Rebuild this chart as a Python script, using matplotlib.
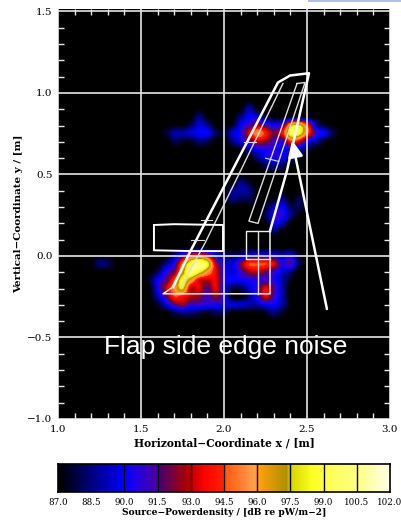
import numpy as np
import matplotlib
matplotlib.use('Agg')
import matplotlib.pyplot as plt
from matplotlib.colors import LinearSegmentedColormap
from matplotlib.patches import Rectangle

levels = [87.0, 88.5, 90.0, 91.5, 93.0, 94.5, 96.0, 97.5, 99.0, 100.5, 102.0]
x_ticks = [1.0, 1.5, 2.0, 2.5, 3.0]
y_ticks = [-1.0, -0.5, 0.0, 0.5, 1.0, 1.5]

# source map, dB on a 0.05 m grid
upper_x = np.arange(1.65, 2.701, 0.05)
upper_y = np.array([0.95, 0.90, 0.85, 0.80, 0.75, 0.70, 0.65, 0.60, 0.55])
upper_db = np.array([
    [87, 87, 87, 87, 87, 87, 87, 87, 87, 87, 87, 87, 87, 87, 87, 87, 87, 87, 87, 87, 87, 87],
    [87, 87, 87, 87, 87, 87, 87, 87, 87, 87, 89, 87, 87, 87, 87, 87, 87, 87, 87, 87, 87, 87],
    [87, 87, 87, 87, 88.5, 87, 87, 87, 87, 88.5, 90, 89.5, 87.5, 87, 87, 87, 87, 87, 87, 87, 87, 87],
    [87, 87, 87, 88, 89.5, 88.5, 87, 87, 87.5, 90, 91, 92.5, 91, 90, 91, 96.5, 97.5, 94, 89, 87.5, 87, 87],
    [87.5, 89, 89, 89.5, 90, 90, 88, 87.5, 89.5, 90.5, 93.5, 95.5, 94, 92, 94, 99, 98.5, 95, 91, 90, 88, 87],
    [87, 88, 87.5, 87.5, 88.5, 88, 87, 87, 88.5, 90, 91.5, 93, 92.5, 91, 91, 94.5, 93.5, 90.5, 89, 87.5, 87, 87],
    [87, 87, 87, 87, 87, 87, 87, 87, 87, 87.5, 89, 90, 90.5, 90.5, 90, 90, 89, 88, 87, 87, 87, 87],
    [87, 87, 87, 87, 87, 87, 87, 87, 87, 87, 87, 88.5, 90, 90.5, 90, 88.5, 87.5, 87, 87, 87, 87, 87],
    [87, 87, 87, 87, 87, 87, 87, 87, 87, 87, 87, 87, 88, 88.5, 88, 87, 87, 87, 87, 87, 87, 87],
])

middle_x = np.arange(2.00, 2.501, 0.05)
middle_y = np.array([0.50, 0.45, 0.40, 0.35, 0.30, 0.25, 0.20, 0.15, 0.10])
middle_db = np.array([
    [87, 87, 87, 87, 87, 87, 87, 87, 87, 87, 87],
    [87, 87, 88.5, 87.5, 87, 87, 87, 87, 87, 87, 87],
    [87, 88.5, 89, 88.5, 87, 87, 87, 87, 87, 87, 87],
    [87, 88.5, 88, 88, 87, 87, 87, 88.5, 87, 88, 87],
    [87, 87, 87, 87, 87, 87.5, 89.5, 90, 88, 88, 87],
    [87, 87, 87, 87, 87, 88, 90.5, 90.5, 88.5, 87, 87],
    [87, 87, 87, 87, 87, 87, 90, 89, 87, 87, 87],
    [87, 87, 87, 87, 87, 87, 88, 87, 87, 87, 87],
    [87, 87, 87, 87, 87, 87, 87, 87, 87, 87, 87],
])

lower_x = np.arange(1.55, 2.451, 0.05)
lower_y = np.array([0.05, 0.00, -0.05, -0.10, -0.15, -0.20, -0.25, -0.30, -0.35, -0.40])
lower_db = np.array([
    [87, 87, 87, 87, 87, 87, 87, 87, 87, 87, 87, 87, 87, 87, 87, 87, 87, 87, 87],
    [87, 87, 87, 88.5, 91, 93.5, 94.5, 93, 90, 88.5, 88, 88.5, 90, 90.5, 90, 90, 89, 90, 87.5],
    [87, 87, 88.5, 90.5, 95, 99, 100.5, 98.5, 93, 90, 89.5, 92, 94.5, 94.5, 94.5, 93.5, 90.5, 91.5, 88],
    [87, 88, 90.5, 92, 96.5, 100, 98.5, 96, 93.5, 90.5, 89.5, 91, 92.5, 93, 92, 91, 89.5, 88.5, 87],
    [87.5, 90, 91.5, 94.5, 98.5, 96.5, 93.5, 93, 93.5, 90.5, 90, 90, 90.5, 90.5, 91, 90.5, 89, 87.5, 87],
    [87, 90, 93, 95.5, 98, 93, 93.5, 91.5, 93.5, 90, 88, 88, 89.5, 91, 93.5, 91.5, 89, 87, 87],
    [87, 89, 91.5, 94.5, 94, 93, 92.5, 91, 92.5, 90.5, 87, 87, 88.5, 90.5, 93.5, 91, 89, 87, 87],
    [87, 87.5, 89.5, 91.5, 92.5, 91, 91, 90.5, 90.5, 90, 89.5, 89.5, 89, 89, 90, 90, 89, 87, 87],
    [87, 87, 87, 88, 88.5, 88.5, 88, 87.5, 88, 88, 87, 87, 87, 87, 87.5, 88.5, 87.5, 87, 87],
    [87, 87, 87, 87, 87, 87, 87, 87, 87, 87, 87, 87, 87, 87, 87, 87, 87, 87, 87],
])

spot_x = np.array([1.20, 1.25, 1.30, 1.35])
spot_y = np.array([0.00, -0.05, -0.10])
spot_db = np.array([
    [87, 87, 87, 87],
    [87, 88.5, 88, 87],
    [87, 87, 87, 87],
])

# model outline, metres
wing_x = [1.693, 1.795, 2.325, 2.398, 2.512, 2.38, 2.277]
wing_y = [-0.19, 0.024, 1.064, 1.107, 1.121, 0.526, 0.153]
base_x = [2.277, 2.277, 1.633, 1.693]
base_y = [0.153, -0.232, -0.232, -0.19]
inner_x = [1.74, 1.886, 2.078, 2.355]
inner_y = [-0.19, 0.08, 0.477, 1.058]
flap_x = [2.44, 2.488, 2.205, 2.15, 2.44]
flap_y = [1.058, 1.064, 0.2, 0.214, 1.058]
box_x = [1.578, 1.70, 1.994, 1.994, 1.80, 1.578, 1.578]
box_y = [0.19, 0.195, 0.19, 0.03, 0.03, 0.035, 0.19]
root_x = [2.277, 2.133, 2.133, 2.277]
root_y = [0.153, 0.153, -0.02, -0.02]
column_x = [2.205, 2.205]
column_y = [0.153, -0.232]
rung_x = [[2.12, 2.19], [1.86, 1.93], [1.80, 1.88], [2.25, 2.33]]
rung_y = [[0.70, 0.70], [0.22, 0.22], [0.10, 0.10], [0.60, 0.58]]

arrow_tail = (2.62, -0.325)
arrow_tip = (2.41, 0.71)

cmap = LinearSegmentedColormap.from_list('power', [
    (0.0, '#000000'), (0.1, '#000080'), (0.2, '#0000ff'), (0.23, '#2000e8'),
    (0.295, '#4a00a0'), (0.305, '#480070'), (0.39, '#b00000'), (0.44, '#ff0000'),
    (0.495, '#ff2000'), (0.505, '#ff5a10'), (0.59, '#ffa050'), (0.605, '#ffa010'),
    (0.69, '#b09000'), (0.705, '#d8d800'), (0.77, '#ffff20'), (0.83, '#ffff60'),
    (0.9, '#ffff80'), (1.0, '#ffffe8')])

plt.rcParams['font.family'] = 'DejaVu Serif'

fig = plt.figure(figsize=(4.02, 5.22), dpi=100)
fig.add_artist(Rectangle((308 / 402, 1 - 2 / 522), 94 / 402, 2 / 522, transform=fig.transFigure,
                         facecolor='#b4bfe4', edgecolor='none'))
ax = fig.add_axes([58 / 402, 1 - 419 / 522, 332 / 402, 410 / 522], facecolor='black')

for px, py, db in [(upper_x, upper_y, upper_db), (middle_x, middle_y, middle_db),
                   (lower_x, lower_y, lower_db), (spot_x, spot_y, spot_db)]:
    ax.imshow(db, cmap=cmap, vmin=87, vmax=102, interpolation='catrom', aspect='auto',
              extent=[px[0] - 0.025, px[-1] + 0.025, py[-1] - 0.025, py[0] + 0.025], zorder=1)

ax.set_xlim(1.0, 3.0)
ax.set_ylim(-1.0, 1.515)
ax.set_xticks(x_ticks)
ax.set_yticks(y_ticks)
ax.set_xticklabels(['%.1f' % v for v in x_ticks], fontsize=7.5)
ax.set_yticklabels([('%.1f' % v).replace('-', '\u2212') for v in y_ticks], fontsize=7.5)
ax.set_xticks(np.arange(1.1, 3.0, 0.1), minor=True)
ax.set_yticks(np.arange(-0.9, 1.5, 0.1), minor=True)
ax.tick_params(which='major', length=0, pad=4)
ax.tick_params(which='minor', direction='in', length=4, width=1, color='#e8e8e8', top=True, right=True)
ax.grid(True, which='major', color='#e6e6e6', linewidth=1.2, zorder=2)
ax.set_axisbelow(False)
for s in ax.spines.values():
    s.set_visible(False)
ax.set_xlabel('Horizontal\u2212Coordinate x / [m]', fontsize=7.7, fontweight='bold', labelpad=3)
ax.set_ylabel('Vertical\u2212Coordinate y / [m]', fontsize=7.5, fontweight='bold', labelpad=3)

ax.plot(wing_x, wing_y, color='white', linewidth=1.8, zorder=3)
ax.plot(base_x, base_y, color='#eeeeee', linewidth=1.1, zorder=3)
ax.plot(inner_x, inner_y, color='#dddddd', linewidth=1, zorder=3)
ax.plot(flap_x, flap_y, color='#dddddd', linewidth=1, zorder=3)
ax.plot(box_x, box_y, color='white', linewidth=1.4, zorder=3)
ax.plot(root_x, root_y, color='#eeeeee', linewidth=1, zorder=3)
ax.plot(column_x, column_y, color='#dddddd', linewidth=1, zorder=3)
for rx, ry in zip(rung_x, rung_y):
    ax.plot(rx, ry, color='#dddddd', linewidth=0.8, zorder=3)

ax.annotate('', xy=arrow_tip, xytext=arrow_tail, zorder=4,
            arrowprops=dict(arrowstyle='-|>,head_length=1.0,head_width=0.45', color='white',
                            linewidth=1.8, shrinkA=0, shrinkB=0))
ax.text(2.01, -0.56, 'Flap side edge noise', color='white', fontsize=19,
        family='Liberation Sans', ha='center', va='center', zorder=5)

cax = fig.add_axes([58 / 402, 1 - 492 / 522, 332 / 402, 28 / 522])
bar = np.linspace(87, 102, 300).reshape(1, -1)
cax.imshow(bar, cmap=cmap, vmin=87, vmax=102, aspect='auto', extent=[87, 102, 0, 1])
for v in levels[1:-1]:
    if v != 88.5:
        cax.axvline(v, color='black', linewidth=1)
for s in cax.spines.values():
    s.set_linewidth(1.2)
cax.set_yticks([])
cax.set_xticks(levels)
cax.set_xticklabels(['%.1f' % v for v in levels], fontsize=6.3)
cax.tick_params(length=0, pad=4)
cax.set_xlabel('Source\u2212Powerdensity / [dB re pW/m\u22122]', fontsize=6.6, fontweight='bold', labelpad=1)

fig.savefig('out.png', dpi=100)
